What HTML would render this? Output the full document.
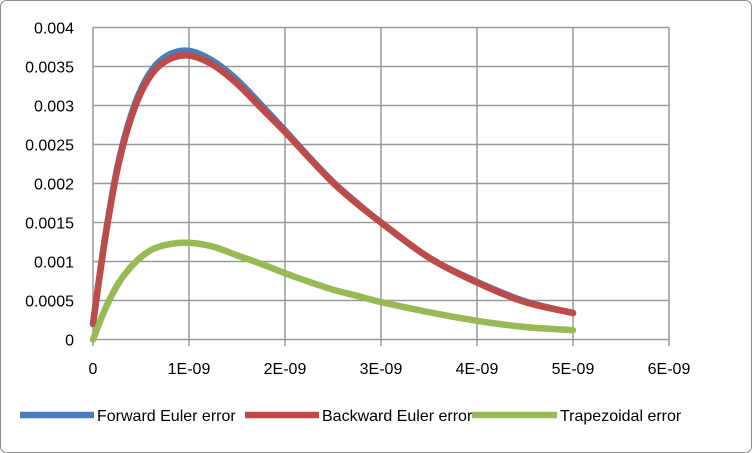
<!DOCTYPE html>
<html><head><meta charset="utf-8"><style>
body{margin:0;background:#fff;}
svg{display:block;font-family:"Liberation Sans",sans-serif;}
</style></head><body>
<svg id="chart" width="752" height="453">
<rect x="0.5" y="0.5" width="751" height="452" rx="6" fill="#fff" stroke="#8c8c8c"/>
<g id="grid"></g><g id="series"></g><g id="legend"></g>
</svg>
<script>
const xTicks=[0,1e-9,2e-9,3e-9,4e-9,5e-9,6e-9];
const xTickLabels=["0","1E-09","2E-09","3E-09","4E-09","5E-09","6E-09"];
const yTicks=[0,0.0005,0.001,0.0015,0.002,0.0025,0.003,0.0035,0.004];
const yTickLabels=["0","0.0005","0.001","0.0015","0.002","0.0025","0.003","0.0035","0.004"];
const tValues=[0,0.13e-9,0.27e-9,0.44e-9,0.61e-9,0.79e-9,1.0e-9,1.25e-9,1.5e-9,1.75e-9,2.0e-9,2.25e-9,2.5e-9,2.75e-9,3.0e-9,3.5e-9,4.0e-9,4.5e-9,5.0e-9];
const forwardEuler=[0.0002,0.00134,0.0023,0.00303,0.00345,0.00365,0.0037,0.00357,0.00333,0.00301,0.00268,0.00234,0.00202,0.00175,0.0015,0.00105,0.00074,0.00049,0.00034];
const backwardEuler=[0.0002,0.00132,0.00227,0.00299,0.0034,0.00359,0.00364,0.00352,0.00328,0.00297,0.00266,0.00233,0.00201,0.00174,0.0015,0.00105,0.00073,0.00048,0.00034];
const trapezoidal=[0,0.0004,0.00073,0.00099,0.00115,0.00122,0.00124,0.00119,0.00108,0.00097,0.00085,0.00074,0.00064,0.00056,0.00048,0.00035,0.00024,0.00016,0.00012];
const NS="http://www.w3.org/2000/svg";
const X=v=>93+v/1e-9*96;
const Y=v=>339.5-v/0.0005*39;
function mk(tag,attrs,parent,text){const e=document.createElementNS(NS,tag);for(const k in attrs)e.setAttribute(k,attrs[k]);if(text!==undefined)e.textContent=text;parent.appendChild(e);return e;}
const grid=document.getElementById('grid');
yTicks.forEach((v,i)=>{
 const l=mk('line',{x1:X(0),x2:X(6e-9),y1:Y(v),y2:Y(v),stroke:'#9a9a9a','stroke-width':1.5},grid);
 
 
 const t=mk('text',{x:74,y:Y(v)+6,'text-anchor':'end','font-size':16,fill:'#000'},grid,yTickLabels[i]);
 
 
});
xTicks.forEach((v,i)=>{
 const l=mk('line',{x1:X(v),x2:X(v),y1:Y(0.004),y2:346,stroke:'#9a9a9a','stroke-width':1.5},grid);
 
 
 const t=mk('text',{x:X(v),y:374,'text-anchor':'middle','font-size':16,fill:'#000'},grid,xTickLabels[i]);
 
 
});
function path(vals){
 const p=tValues.map((t,i)=>[X(t),Y(vals[i])]);
 let d=`M${p[0][0]},${p[0][1]}`;
 for(let i=0;i<p.length-1;i++){
  const p0=p[Math.max(0,i-1)],p1=p[i],p2=p[i+1],p3=p[Math.min(p.length-1,i+2)];
  const c1=[p1[0]+(p2[0]-p0[0])/6,p1[1]+(p2[1]-p0[1])/6];
  const c2=[p2[0]-(p3[0]-p1[0])/6,p2[1]-(p3[1]-p1[1])/6];
  d+=` C${c1[0]},${c1[1]} ${c2[0]},${c2[1]} ${p2[0]},${p2[1]}`;
 }
 return d;
}
const sg=document.getElementById('series');
const series=[["forward-euler-line",forwardEuler,"#4a7ebb"],["backward-euler-line",backwardEuler,"#be4b48"],["trapezoidal-line",trapezoidal,"#98b954"]];
series.forEach(s=>{
 const e=mk('path',{d:path(s[1]),fill:'none',stroke:s[2],'stroke-width':6.5,'stroke-linecap':'round','stroke-linejoin':'round'},sg);
 
 
});
const lg=document.getElementById('legend');
const legendItems=[["Forward Euler error","#4a7ebb",20,97],["Backward Euler error","#be4b48",245,322],["Trapezoidal error","#98b954",472,560]];
legendItems.forEach(it=>{
 const g=mk('g',{},lg);
 
 
 mk('line',{x1:it[2],x2:it[3]-3,y1:415,y2:415,stroke:it[1],'stroke-width':6.5},g);
 mk('text',{x:it[3],y:421,'font-size':16,fill:'#000'},g,it[0]);
});
</script>
</body></html>
